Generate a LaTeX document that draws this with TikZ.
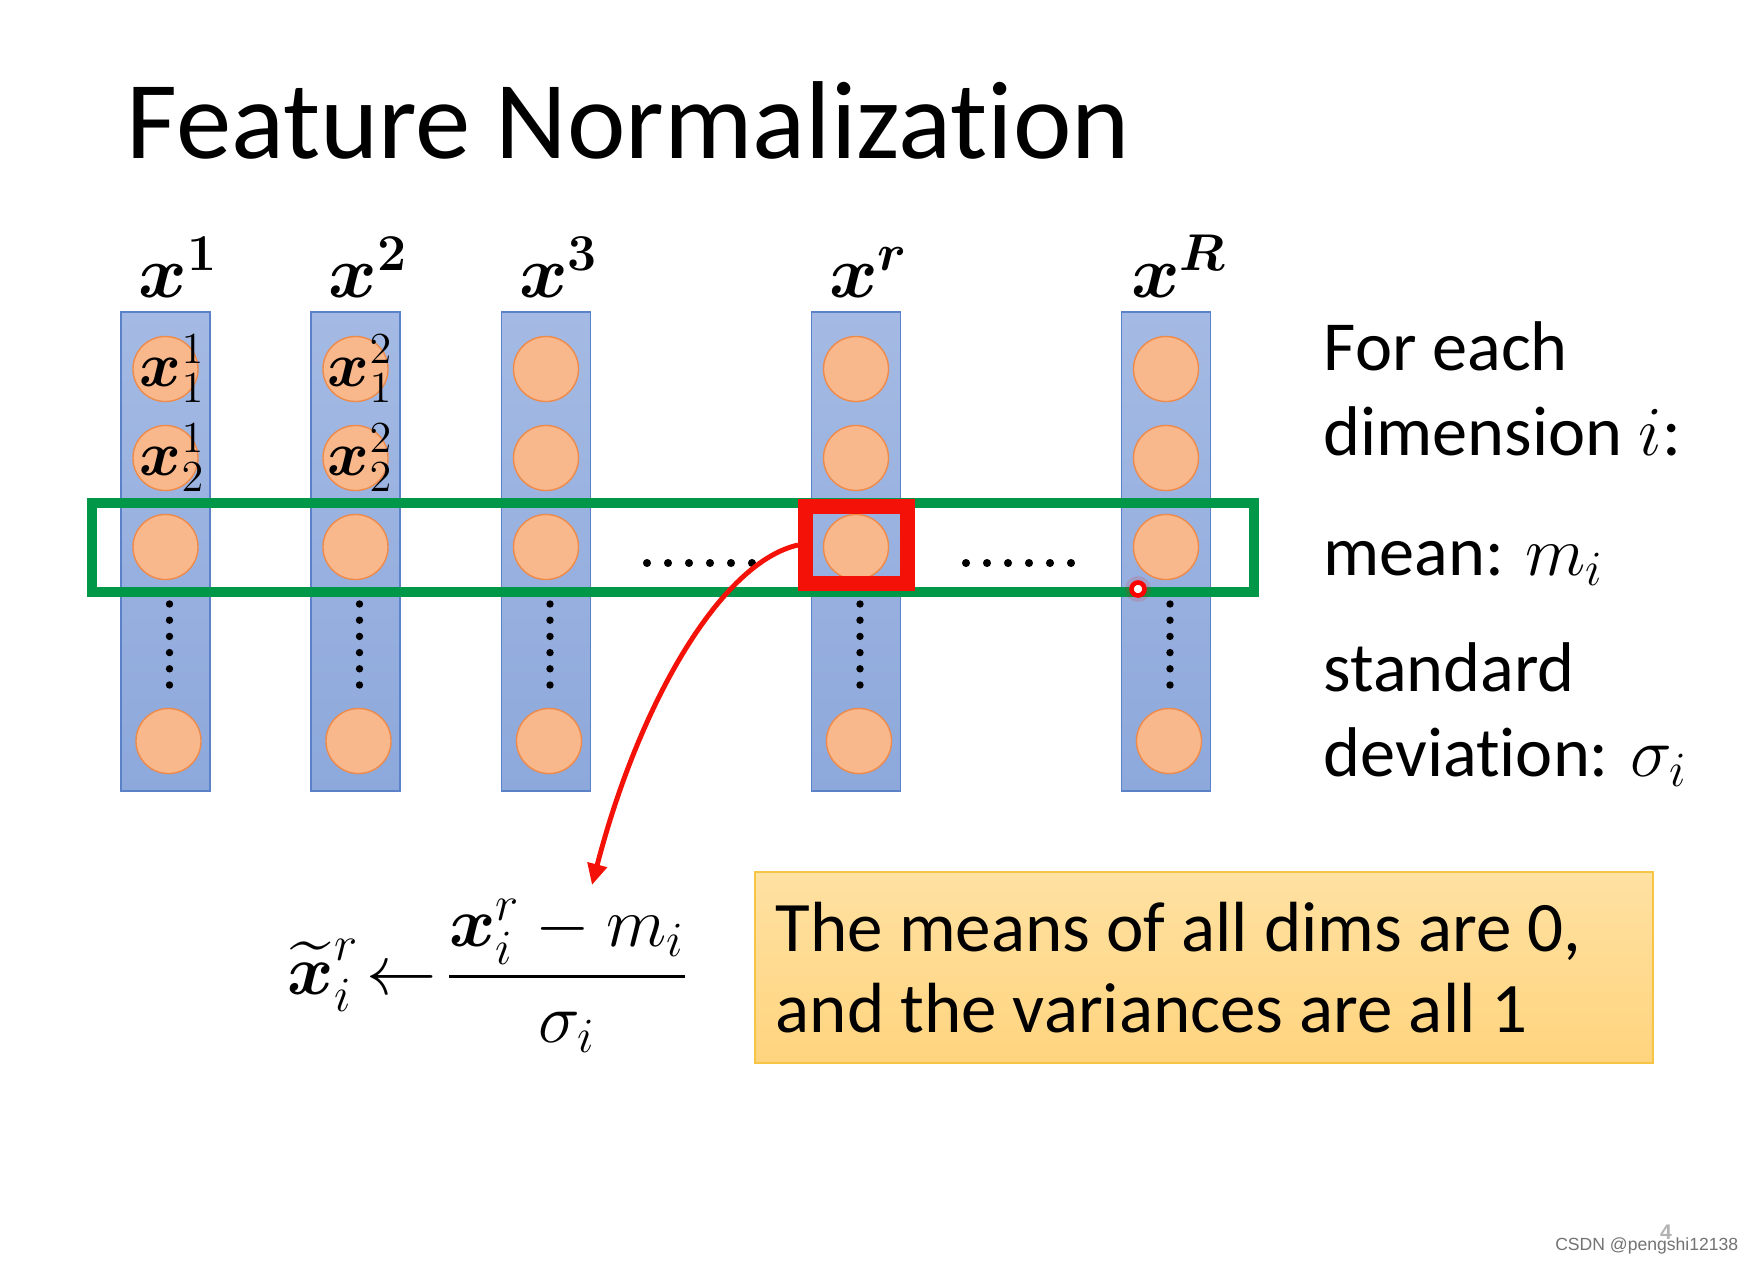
\RequirePackage{fix-cm}
\documentclass[tikz,border=0pt]{standalone}
\usepackage{amsmath}
\usepackage{fontspec}
\setmainfont{Carlito}[Ligatures=NoCommon]
\newfontfamily\wmfont{Liberation Sans}
\usetikzlibrary{arrows.meta}

\definecolor{colfill}{HTML}{8DA8DB}
\definecolor{coltop}{HTML}{A4BAE4}
\definecolor{colline}{HTML}{5B82C9}
\definecolor{neufill}{HTML}{F8B88C}
\definecolor{neuline}{HTML}{EE8A4A}
\definecolor{rowgreen}{RGB}{0,152,72}
\definecolor{selred}{RGB}{244,18,8}
\definecolor{notetop}{HTML}{FFE1A2}
\definecolor{notebot}{HTML}{FFD47E}
\definecolor{noteline}{HTML}{F6C545}

\tikzset{
  featcol/.style={draw=colline, line width=0.5pt, top color=coltop, bottom color=colfill,
    minimum width=0.89cm, minimum height=4.79cm, inner sep=0pt},
  neuron/.style={circle, draw=neuline, line width=0.4pt, fill=neufill,
    minimum size=0.65cm, inner sep=0pt},
  collabel/.style={anchor=base, inner sep=0pt, font=\fontsize{21}{24}\selectfont},
  celllabel/.style={inner sep=0pt, font=\fontsize{18}{20}\selectfont},
  sidetext/.style={anchor=base west, inner sep=0pt, font=\fontsize{20}{24}\selectfont},
  notebox/.style={draw=noteline, line width=0.6pt, top color=notetop, bottom color=notebot,
    minimum width=8.98cm, minimum height=1.91cm, text width=8.56cm, inner xsep=0.21cm,
    align=flush left, font=\fontsize{20.2}{22.8}\selectfont},
  redarrow/.style={draw=selred, line width=1.4pt, -{Triangle[length=6pt,width=5.5pt]}}
}

\begin{document}
\begin{tikzpicture}[x=0.01cm,y=-0.01cm]

\useasboundingbox[fill=white] (0,0) rectangle (1754,1263);

% title
\node[anchor=base west, inner sep=0pt, font=\fontsize{31.5}{36}\selectfont] (title) at (126,158) {Feature Normalization};

% feature columns
\foreach \n/\cx in {1/165.5, 2/355.5, 3/546, r/856, R/1166} {
  \node[featcol] (col\n) at (\cx,551.5) {};
  \node[collabel] (lab\n) at (\cx+13,297) {$\boldsymbol{x^{\n}}$};
  \node[neuron] (n\n-1) at (\cx,369) {};
  \node[neuron] (n\n-2) at (\cx,458) {};
  \node[neuron] (n\n-3) at (\cx,547) {};
  \node[neuron] (n\n-4) at (\cx+3,741) {};
  % vertical dots
  \foreach \k in {0,...,5}
    \fill (\cx+4,604+16.2*\k) circle[radius=1.05pt];
}

% labels in the first two columns
\node[celllabel] (t11) at ([xshift=0.07cm]n1-1) {$\boldsymbol{x}_1^1$};
\node[celllabel] (t12) at ([xshift=0.07cm]n1-2) {$\boldsymbol{x}_2^1$};
\node[celllabel] (t21) at ([xshift=0.05cm]n2-1) {$\boldsymbol{x}_1^2$};
\node[celllabel] (t22) at ([xshift=0.05cm]n2-2) {$\boldsymbol{x}_2^2$};

% horizontal dots
\foreach \k in {0,...,5} {
  \fill (647+21*\k,563) circle[radius=1.15pt];
  \fill (966+21*\k,563) circle[radius=1.15pt];
}

% dimension i
\draw[rowgreen, line width=2.6pt] (92,503) rectangle (1254,592);
\node[draw=selred, line width=4.2pt, minimum width=1.02cm, minimum height=0.77cm, inner sep=0pt] (sel) at (856.5,545) {};

% pointer
\node[circle, fill=red, opacity=0.12, minimum size=0.26cm, inner sep=0pt] (glow) at (1138,589) {};
\node[circle, draw=red, line width=1.3pt, fill=white, minimum size=0.13cm, inner sep=0pt] (cursor) at (1138,589) {};

% arrow to the formula
\coordinate (tip) at (592,885);
\draw[redarrow] (sel.west) .. controls (722,562) and (640,700) .. (tip);

\node[anchor=base west, inner sep=0pt, font=\fontsize{20}{24}\selectfont] (eq) at (287,994)
  {$\widetilde{\boldsymbol{x}}_i^r \!\leftarrow\! \dfrac{\boldsymbol{x}_i^r - m_i}{\sigma_i}$};

% right side
\node[sidetext] (s1) at (1323,370) {For each};
\node[sidetext] (s2) at (1323,455) {dimension $i$:};
\node[sidetext] (s3) at (1323,575) {mean: $m_i$};
\node[sidetext] (s4) at (1323,691) {standard};
\node[sidetext] (s5) at (1323,776) {deviation: $\sigma_i$};

% result
\node[notebox] (note) at (1204,967.5) {The means of all dims are 0,\\and the variances are all 1};

% page number and mark
\node[text=black!30, inner sep=0pt, font=\wmfont\fontsize{6}{7}\selectfont\bfseries] (page) at (1666,1232) {4};
\node[anchor=base east, text=black!55, inner sep=0pt, font=\wmfont\fontsize{5}{6}\selectfont] (mark) at (1739,1250) {CSDN @pengshi12138};

\end{tikzpicture}
\end{document}
